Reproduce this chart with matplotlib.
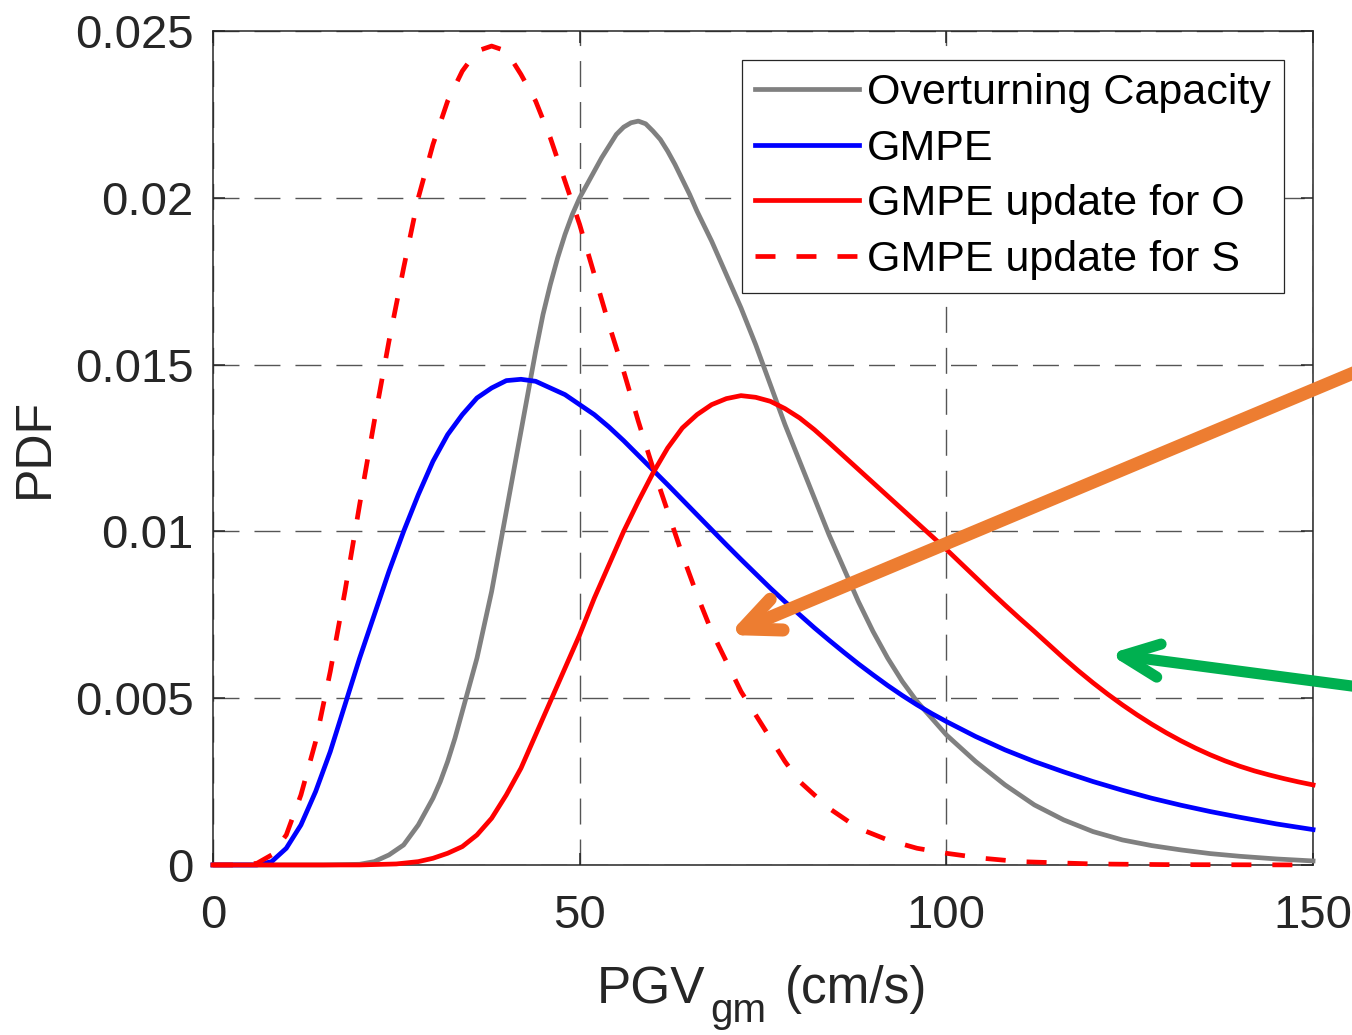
import matplotlib
matplotlib.use("Agg")
import matplotlib.pyplot as plt
from matplotlib.patches import FancyArrowPatch

plt.rcParams['font.family'] = ['Liberation Sans', 'DejaVu Sans']

# PGV (cm/s) and probability density for each distribution
x_oc = [0, 15, 20, 22, 24, 26, 27, 28, 29, 30, 31, 32, 33, 34, 35, 36, 37, 38,
        39, 40, 41, 42, 43, 44, 45, 46, 47, 48, 49, 50, 51, 52, 53, 54, 55, 56,
        57, 58, 59, 60, 61, 62, 63, 64, 65, 66, 68, 70, 72, 74, 76, 78, 80, 82,
        84, 86, 88, 90, 92, 94, 96, 98, 100, 104, 108, 112, 116, 120, 124, 128,
        132, 136, 140, 145, 150]
y_oc = [0, 0, 0.00002, 0.0001, 0.0003, 0.0006, 0.0009, 0.0012, 0.0016, 0.0020,
        0.0025, 0.0031, 0.0038, 0.0046, 0.0054, 0.0062, 0.0072, 0.0082, 0.0094,
        0.0106, 0.0118, 0.0130, 0.0142, 0.0154, 0.0165, 0.0174, 0.0182, 0.0189,
        0.0195, 0.0200, 0.0204, 0.0208, 0.0212, 0.02155, 0.0219, 0.02212,
        0.02225, 0.0223, 0.02222, 0.0220, 0.02175, 0.0214, 0.0210, 0.02055,
        0.0201, 0.0196, 0.0187, 0.0177, 0.0167, 0.0156, 0.0144, 0.0132, 0.0121,
        0.0110, 0.0099, 0.0089, 0.0079, 0.0070, 0.0062, 0.0055, 0.0049, 0.0044,
        0.0039, 0.0031, 0.0024, 0.0018, 0.00135, 0.0010, 0.00075, 0.00058,
        0.00045, 0.00034, 0.00026, 0.00018, 0.00012]

x_gmpe = [0, 6, 8, 10, 12, 14, 16, 18, 20, 22, 24, 26, 28, 30, 32, 34, 36, 38,
          40, 42, 44, 46, 48, 50, 52, 54, 56, 58, 60, 62, 64, 66, 68, 70, 72,
          74, 76, 78, 80, 82, 84, 86, 88, 90, 92, 94, 96, 98, 100, 104, 108,
          112, 116, 120, 124, 128, 132, 136, 140, 145, 150]
y_gmpe = [0, 0, 0.0001, 0.0005, 0.0012, 0.0022, 0.0034, 0.0048, 0.0062, 0.0075,
          0.0088, 0.0100, 0.0111, 0.0121, 0.0129, 0.0135, 0.0140, 0.0143,
          0.01452, 0.01456, 0.0145, 0.0143, 0.0141, 0.0138, 0.0135, 0.01313,
          0.01272, 0.01228, 0.01184, 0.0114, 0.01095, 0.0105, 0.01005, 0.0096,
          0.00916, 0.00873, 0.0083, 0.00789, 0.0075, 0.00711, 0.00674, 0.00638,
          0.00603, 0.0057, 0.00538, 0.00508, 0.0048, 0.00454, 0.0043, 0.00385,
          0.00345, 0.0031, 0.00279, 0.0025, 0.00224, 0.0020, 0.00179, 0.0016,
          0.00143, 0.00123, 0.00106]

x_upd_o = [0, 20, 25, 28, 30, 32, 34, 36, 38, 40, 42, 44, 46, 48, 50, 52, 54,
           56, 58, 60, 62, 64, 66, 68, 70, 72, 74, 76, 78, 80, 82, 84, 86, 88,
           90, 92, 94, 96, 98, 100, 102, 104, 106, 108, 110, 112, 114, 116, 118,
           120, 122, 124, 126, 128, 130, 132, 134, 136, 138, 140, 142, 144, 146,
           148, 150]
y_upd_o = [0, 0, 0.00003, 0.0001, 0.0002, 0.00035, 0.00055, 0.0009, 0.0014,
           0.0021, 0.0029, 0.0039, 0.0049, 0.0059, 0.0069, 0.0080, 0.0090,
           0.0100, 0.0109, 0.01175, 0.0125, 0.0131, 0.0135, 0.0138, 0.01398,
           0.01407, 0.01402, 0.0139, 0.01368, 0.0134, 0.01305, 0.01266, 0.01226,
           0.01186, 0.01146, 0.01106, 0.01066, 0.01026, 0.00986, 0.00946,
           0.00904, 0.00862, 0.0082, 0.00779, 0.00739, 0.007, 0.0066, 0.0062,
           0.00582, 0.00546, 0.00512, 0.0048, 0.0045, 0.00422, 0.00396, 0.00372,
           0.0035, 0.0033, 0.00312, 0.00296, 0.00282, 0.0027, 0.00259, 0.00249,
           0.0024]

x_upd_s = [0, 4, 6, 8, 10, 12, 14, 16, 18, 20, 22, 24, 26, 28, 30, 32, 34, 36,
           38, 40, 42, 44, 46, 48, 50, 52, 54, 56, 58, 60, 62, 64, 66, 68, 70,
           72, 74, 76, 78, 80, 84, 88, 92, 96, 100, 105, 110, 120, 130, 150]
y_upd_s = [0, 0, 0.00005, 0.0003, 0.0009, 0.0021, 0.0037, 0.0058, 0.0082,
           0.0108, 0.0133, 0.0157, 0.0179, 0.0200, 0.0216, 0.0229, 0.0238,
           0.0244, 0.02455, 0.0244, 0.0237, 0.0229, 0.0218, 0.0205, 0.0192,
           0.0177, 0.0162, 0.0148, 0.0133, 0.0119, 0.0106, 0.0093, 0.0081,
           0.0070, 0.0061, 0.0052, 0.0045, 0.0038, 0.0031, 0.0025, 0.0017,
           0.0011, 0.00075, 0.0005, 0.00035, 0.0002, 0.0001, 0.00003, 0.00001, 0]

labels = ['Overturning Capacity', 'GMPE', 'GMPE update for O', 'GMPE update for S']
x_ticks = [0, 50, 100, 150]
y_ticks = [0, 0.005, 0.01, 0.015, 0.02, 0.025]
y_tick_labels = ['0', '0.005', '0.01', '0.015', '0.02', '0.025']

ink = '#262626'
W, H = 1352, 1035
fig = plt.figure(figsize=(W / 100, H / 100), dpi=100)
ax = fig.add_axes([0.1575, 0.1643, 0.8137, 0.8057])

lw = 3.4
ax.plot(x_oc, y_oc, color='#808080', lw=lw, label=labels[0], clip_on=False, zorder=3)
ax.plot(x_gmpe, y_gmpe, color='#0000ff', lw=lw, label=labels[1], clip_on=False, zorder=3)
ax.plot(x_upd_o, y_upd_o, color='#ff0000', lw=lw, label=labels[2], clip_on=False, zorder=3)
ax.plot(x_upd_s, y_upd_s, color='#ff0000', lw=lw, label=labels[3], clip_on=False,
        zorder=3, linestyle=(0, (14.4 / lw, 15.1 / lw)))

ax.set_xlim(0, 150)
ax.set_ylim(0, 0.025)
ax.set_xticks(x_ticks)
ax.set_yticks(y_ticks)
ax.set_yticklabels(y_tick_labels)

ax.grid(True, color='#555555', linestyle=(0, (18.7, 10.8)), linewidth=1.0, zorder=1)
ax.set_axisbelow(True)

for s in ax.spines.values():
    s.set_color(ink)
    s.set_linewidth(1.1)
ax.tick_params(direction='in', length=8.6, width=1.1, top=True, right=True,
               colors=ink, labelsize=34)
ax.tick_params(axis='x', pad=21)
ax.tick_params(axis='y', pad=14)

ax.set_ylabel('PDF', fontsize=36, color=ink, labelpad=12)

# x-axis label with a TeX-style subscript
def fig_text(px, py, s, size):
    fig.text(px / W, 1 - py / H, s, fontsize=size, color=ink,
             ha='left', va='baseline')

fig_text(597, 1003, 'PGV', 37)
fig_text(710, 1022, 'gm', 29)
fig_text(785, 1003, '(cm/s)', 37)

leg = ax.legend(loc='upper right', bbox_to_anchor=(0.9736, 0.965), borderaxespad=0,
                fontsize=31, handlelength=2.4, handletextpad=0.2, borderpad=0.3,
                labelspacing=0.36, fancybox=False, framealpha=1, edgecolor=ink)
leg.get_frame().set_linewidth(0.9)

# callout arrows
for tail, tip, col, width in [((1.02, 0.650), (0.5385, 0.3865), '#ed7d31', 9.4),
                              ((1.02, 0.3337), (0.8203, 0.3681), '#00b050', 8.0)]:
    fig.add_artist(FancyArrowPatch(posA=tail, posB=tip, transform=fig.transFigure,
                                   arrowstyle='->,head_length=2.65,head_width=1.2',
                                   mutation_scale=10, color=col, lw=width,
                                   capstyle='round', joinstyle='round',
                                   shrinkA=0, shrinkB=0, zorder=5))

fig.savefig('out.png', dpi=100)
